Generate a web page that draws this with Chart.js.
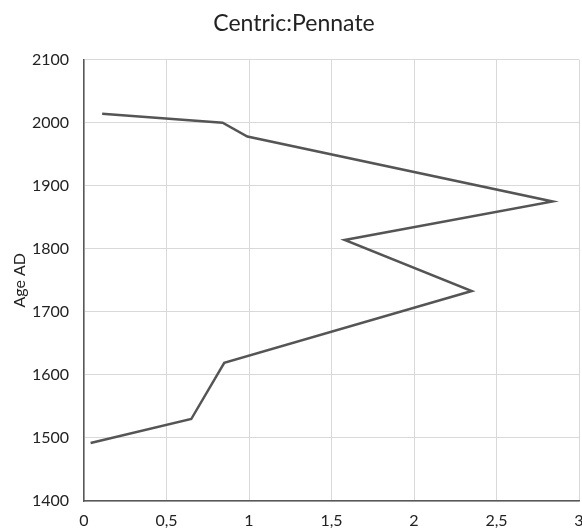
<!DOCTYPE html>
<html>
<head>
<meta charset="utf-8">
<script src="https://cdn.jsdelivr.net/npm/chart.js@4.4.1/dist/chart.umd.min.js"></script>
<style>
  html, body { margin: 0; padding: 0; background: #ffffff; }
  #wrap { width: 582px; height: 531px; }
</style>
</head>
<body>
<div id="wrap"><canvas id="c" width="582" height="531"></canvas></div>
<script>
// Centric:Pennate ratio (x) against age AD (y)
const ratioValues = [0.11, 0.84, 0.99, 2.84, 1.58, 2.35, 0.85, 0.65, 0.04];
const ageValues   = [2014, 2000, 1978, 1875, 1814, 1733, 1619, 1530, 1492];
const xTickLabels = ['0', '0,5', '1', '1,5', '2', '2,5', '3'];
const yTickLabels = ['1400', '1500', '1600', '1700', '1800', '1900', '2000', '2100'];

const points = ratioValues.map((r, i) => ({ x: r, y: ageValues[i] }));
const FONT = 'Lato, "Open Sans", "DejaVu Sans", sans-serif';

new Chart(document.getElementById('c'), {
  type: 'scatter',
  data: {
    datasets: [{
      data: points,
      showLine: true,
      borderColor: '#555555',
      borderWidth: 2.5,
      pointRadius: 0,
      pointHoverRadius: 0,
      fill: false,
      tension: 0
    }]
  },
  options: {
    responsive: false,
    animation: false,
    layout: { padding: { left: 6, right: 0, top: 0, bottom: 0 } },
    plugins: {
      legend: { display: false },
      tooltip: { enabled: false },
      title: {
        display: true,
        text: 'Centric:Pennate',
        color: '#222222',
        font: { family: FONT, size: 23, weight: 'normal' },
        padding: { top: 10, bottom: 22 }
      }
    },
    scales: {
      x: {
        type: 'linear',
        min: 0,
        max: 3,
        ticks: {
          stepSize: 0.5,
          color: '#222222',
          font: { family: FONT, size: 16 },
          padding: 10,
          maxRotation: 0,
          autoSkip: false,
          callback: (v, i) => xTickLabels[i]
        },
        grid: { color: '#d9d9d9', lineWidth: 1, drawTicks: false },
        border: { color: '#595959', width: 1.5 },
        afterFit: (s) => { s.paddingRight = 3; s.height = 30; }
      },
      y: {
        type: 'linear',
        min: 1400,
        max: 2100,
        ticks: {
          stepSize: 100,
          color: '#222222',
          font: { family: FONT, size: 16 },
          padding: 15,
          autoSkip: false,
          callback: (v, i) => yTickLabels[i]
        },
        grid: { color: '#d9d9d9', lineWidth: 1, drawTicks: false },
        border: { color: '#595959', width: 1.5 },
        title: {
          display: true,
          text: 'Age AD',
          color: '#222222',
          font: { family: FONT, size: 16 },
          padding: { top: 4, bottom: 4 }
        },
        afterFit: (s) => { s.width = 78; }
      }
    }
  }
});
</script>
</body>
</html>
